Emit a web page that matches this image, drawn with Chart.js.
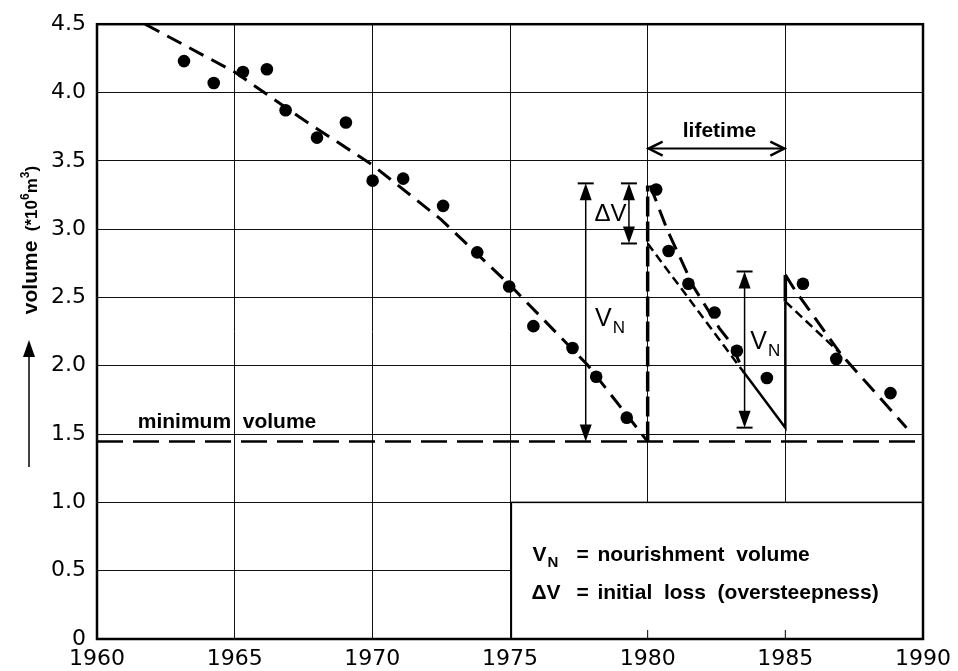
<!DOCTYPE html>
<html>
<head>
<meta charset="utf-8">
<script src="https://cdn.jsdelivr.net/npm/chart.js@4.4.1/dist/chart.umd.min.js"></script>
<style>
  html, body { margin: 0; padding: 0; background: #fff; }
</style>
</head>
<body>
<canvas id="grafico" width="958" height="671"></canvas>
<script>
// measured volumes (dots)
const dotYears = [1963.16, 1964.24, 1965.30, 1966.17, 1966.85, 1967.99, 1969.04, 1970.01, 1971.12, 1972.57, 1973.81, 1974.97,
  1975.85, 1977.27, 1978.13, 1979.24, 1980.31, 1980.76, 1981.48, 1982.43, 1983.24, 1984.33, 1985.64, 1986.85, 1988.82];
const dotVolumes = [4.23, 4.07, 4.15, 4.17, 3.87, 3.67, 3.78, 3.355, 3.37, 3.17, 2.83, 2.58,
  2.29, 2.13, 1.92, 1.62, 3.29, 2.84, 2.60, 2.39, 2.11, 1.91, 2.60, 2.05, 1.80];

// trend lines
const trend1Years = [1961.75, 1965, 1967.5, 1970, 1972.5, 1975, 1977.8, 1980];
const trend1Volumes = [4.5, 4.15, 3.80, 3.47, 3.07, 2.59, 2.01, 1.445];
const trend2Years = [1980.09, 1980.7, 1981.66, 1982.6, 1983.02, 1983.5];
const trend2Volumes = [3.32, 3.0, 2.58, 2.276, 2.167, 1.95];
const short1Years = [1980, 1983.5];
const short1Volumes = [2.895, 1.95];
const solidYears = [1983.5, 1985, 1985];
const solidVolumes = [1.95, 1.547, 2.47];
const trend3Years = [1985, 1985.34, 1987.0, 1989.4];
const trend3Volumes = [2.665, 2.556, 2.09, 1.547];
const short2Years = [1985, 1987.0];
const short2Volumes = [2.47, 2.09];
const jump1Years = [1980, 1980];
const jump1Volumes = [1.445, 3.32];
const jump2Years = [1985, 1985];
const jump2Volumes = [2.47, 2.665];
const minimumVolume = 1.445;

// annotation arrows
const vnArrowYears = [1977.75, 1983.52];
const vnArrowLow = [1.445, 1.547];
const vnArrowHigh = [3.335, 2.69];
const dvArrowYear = 1979.32;
const dvArrowLow = 2.895;
const dvArrowHigh = 3.335;
const lifetimeYears = [1980, 1985];
const lifetimeVolume = 3.59;

const xTicks = [1960, 1965, 1970, 1975, 1980, 1985, 1990];

const pts = (xs, ys) => xs.map((x, i) => ({x: x, y: ys[i]}));

function lineSet(xs, ys, dash, width) {
  return {
    data: pts(xs, ys),
    showLine: true,
    pointRadius: 0,
    borderColor: '#000',
    borderWidth: width,
    borderDash: dash,
    borderCapStyle: 'butt',
    tension: 0
  };
}

const data = {
  datasets: [
    lineSet([1960, 1990], [minimumVolume, minimumVolume], [26, 10], 2.5),
    lineSet(trend1Years, trend1Volumes, [16, 9], 3),
    lineSet(jump1Years, jump1Volumes, [20, 5], 3.5),
    lineSet(trend2Years, trend2Volumes, [17, 9], 3),
    lineSet(short1Years, short1Volumes, [9, 5], 2.5),
    lineSet(solidYears, solidVolumes, [], 2.5),
    lineSet(jump2Years, jump2Volumes, [], 3.5),
    lineSet(trend3Years, trend3Volumes, [17, 9], 3),
    lineSet(short2Years, short2Volumes, [9, 5], 2.5),
    {
      data: pts(dotYears, dotVolumes),
      pointRadius: 6.3,
      pointBackgroundColor: '#000',
      pointBorderWidth: 0,
      showLine: false
    }
  ]
};

const LABEL_FONT = '"Liberation Sans", Arial, sans-serif';

function arrowHead(ctx, x, y, dir) {
  // dir = -1 points up, 1 points down
  ctx.beginPath();
  ctx.moveTo(x, y);
  ctx.lineTo(x - 6, y - dir * 17);
  ctx.lineTo(x + 6, y - dir * 17);
  ctx.closePath();
  ctx.fill();
}

function vArrow(ctx, px, pTop, pBot, capTop, capBot) {
  ctx.lineWidth = 1.5;
  ctx.beginPath();
  ctx.moveTo(px, pTop + 4);
  ctx.lineTo(px, pBot - 4);
  ctx.stroke();
  arrowHead(ctx, px, pTop, -1);
  arrowHead(ctx, px, pBot, 1);
  ctx.lineWidth = 2;
  if (capTop) {
    ctx.beginPath(); ctx.moveTo(px - 8, pTop); ctx.lineTo(px + 8, pTop); ctx.stroke();
  }
  if (capBot) {
    ctx.beginPath(); ctx.moveTo(px - 8, pBot); ctx.lineTo(px + 8, pBot); ctx.stroke();
  }
}

function subText(ctx, main, sub, x, y, size, subSize, weight) {
  ctx.textAlign = 'left';
  ctx.textBaseline = 'alphabetic';
  ctx.font = weight + ' ' + size + 'px ' + LABEL_FONT;
  ctx.fillText(main, x, y);
  const w = ctx.measureText(main).width;
  ctx.font = weight + ' ' + subSize + 'px ' + LABEL_FONT;
  ctx.fillText(sub, x + w + 1, y + subSize * 0.4);
}

const annotate = {
  id: 'annotate',
  afterDraw(chart) {
    const ctx = chart.ctx;
    const X = v => chart.scales.x.getPixelForValue(v);
    const Y = v => chart.scales.y.getPixelForValue(v);
    const area = chart.chartArea;
    ctx.save();
    ctx.fillStyle = '#000';
    ctx.strokeStyle = '#000';

    // legend box
    const bx = X(1975.05), by = Y(1.0);
    ctx.fillStyle = '#fff';
    ctx.fillRect(bx, by, area.right - bx, area.bottom - by);
    ctx.fillStyle = '#000';
    ctx.lineWidth = 1.5;
    ctx.strokeRect(bx, by, area.right - bx, area.bottom - by);
    ctx.lineWidth = 1;
    [1980, 1985].forEach(v => {
      ctx.beginPath(); ctx.moveTo(X(v), area.bottom); ctx.lineTo(X(v), area.bottom - 9); ctx.stroke();
    });
    subText(ctx, 'V', 'N', bx + 21, 561, 21, 15, 'bold');
    ctx.font = 'bold 21px ' + LABEL_FONT;
    ctx.fillText('ΔV', bx + 20, 599);
    ctx.fillText('=', bx + 65, 561);
    ctx.fillText('=', bx + 65, 599);
    ctx.fillText('nourishment  volume', bx + 86, 561);
    ctx.fillText('initial  loss  (oversteepness)', bx + 86, 599);

    // frame
    ctx.lineWidth = 2.5;
    ctx.strokeRect(area.left, area.top, area.right - area.left, area.bottom - area.top);

    // nourishment arrows
    vArrow(ctx, X(vnArrowYears[0]), Y(vnArrowHigh[0]), Y(vnArrowLow[0]), true, false);
    vArrow(ctx, X(vnArrowYears[1]), Y(vnArrowHigh[1]), Y(vnArrowLow[1]), true, true);
    vArrow(ctx, X(dvArrowYear), Y(dvArrowHigh), Y(dvArrowLow), true, true);

    subText(ctx, 'V', 'N', X(1978.09), Y(2.29), 25, 17, 'normal');
    subText(ctx, 'V', 'N', X(1983.73), Y(2.12), 25, 17, 'normal');
    ctx.font = 'normal 24px ' + LABEL_FONT;
    ctx.fillText('ΔV', X(1978.07), Y(3.06));

    // lifetime arrow
    const ly = Y(lifetimeVolume), l0 = X(lifetimeYears[0]), l1 = X(lifetimeYears[1]);
    ctx.lineWidth = 2;
    ctx.beginPath(); ctx.moveTo(l0 + 2, ly); ctx.lineTo(l1 - 2, ly); ctx.stroke();
    ctx.lineWidth = 2.5;
    ctx.beginPath();
    ctx.moveTo(l0 + 15, ly - 7); ctx.lineTo(l0 + 1, ly); ctx.lineTo(l0 + 15, ly + 7);
    ctx.moveTo(l1 - 15, ly - 7); ctx.lineTo(l1 - 1, ly); ctx.lineTo(l1 - 15, ly + 7);
    ctx.stroke();
    ctx.font = 'bold 21px ' + LABEL_FONT;
    ctx.textAlign = 'center';
    ctx.textBaseline = 'middle';
    ctx.fillText('lifetime', (l0 + l1) / 2 + 3, Y(3.72));

    // minimum volume label
    ctx.textAlign = 'left';
    ctx.textBaseline = 'alphabetic';
    ctx.fillText('minimum  volume', X(1961.48), Y(1.545));

    // y axis title (rotated, with superscripts)
    ctx.save();
    ctx.translate(30, 240);
    ctx.rotate(-Math.PI / 2);
    const parts = [['volume', 21, 0], ['  (*10', 17, 0], ['6', 12, -8], ['m', 17, 0], ['3', 12, -8], [')', 17, 0]];
    let total = 0;
    parts.forEach(p => { ctx.font = 'bold ' + p[1] + 'px ' + LABEL_FONT; total += ctx.measureText(p[0]).width; });
    let cx = -total / 2;
    ctx.textBaseline = 'alphabetic';
    parts.forEach(p => {
      ctx.font = 'bold ' + p[1] + 'px ' + LABEL_FONT;
      ctx.fillText(p[0], cx, 7 + p[2]);
      cx += ctx.measureText(p[0]).width;
    });
    ctx.restore();

    // upward arrow under the title
    ctx.lineWidth = 1.5;
    ctx.beginPath(); ctx.moveTo(29, 356); ctx.lineTo(29, 467); ctx.stroke();
    arrowHead(ctx, 29, 340, -1);

    ctx.restore();
  }
};

const config = {
  type: 'scatter',
  data: data,
  options: {
    responsive: false,
    animation: false,
    layout: { padding: { top: 21, right: 35, left: 0, bottom: 0 } },
    plugins: {
      legend: { display: false },
      tooltip: { enabled: false }
    },
    scales: {
      x: {
        type: 'linear',
        min: 1960,
        max: 1990,
        afterBuildTicks: scale => { scale.ticks = xTicks.map(v => ({value: v})); },
        ticks: {
          callback: v => String(v),
          font: { family: 'DejaVu Sans', size: 22 },
          color: '#000',
          padding: 7,
          maxRotation: 0,
          autoSkip: false
        },
        grid: { color: '#111', lineWidth: 1, drawTicks: false },
        border: { display: false },
        afterFit: scale => { scale.height = 32; }
      },
      y: {
        min: 0,
        max: 4.5,
        ticks: {
          stepSize: 0.5,
          callback: v => v === 0 ? '0' : v.toFixed(1),
          font: { family: 'DejaVu Sans', size: 22 },
          color: '#000',
          padding: 11,
          autoSkip: false
        },
        grid: { color: '#111', lineWidth: 1, drawTicks: false },
        border: { display: false },
        afterFit: scale => { scale.width = 97; }
      }
    }
  },
  plugins: [annotate]
};

const myChart = new Chart(document.getElementById('grafico'), config);
</script>
</body>
</html>
